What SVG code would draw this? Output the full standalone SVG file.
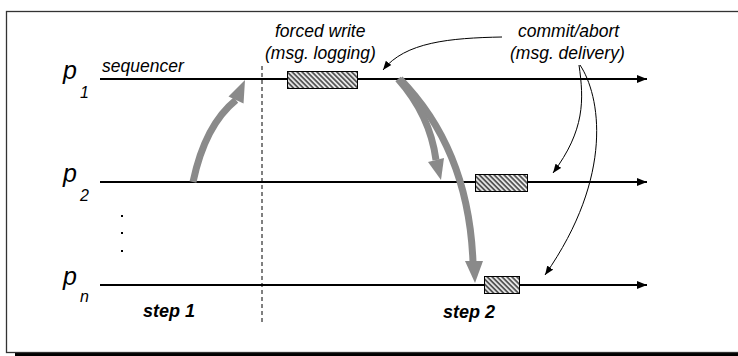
<svg xmlns="http://www.w3.org/2000/svg" width="738" height="356" viewBox="0 0 738 356">
<style>
  text { font-family: "Liberation Sans", Arial, sans-serif; fill: #000; }
  .lbl { font-size: 17.5px; font-style: italic; }
  .step { font-size: 18px; font-style: italic; font-weight: bold; }
  .p { font-size: 25px; font-style: italic; }
  .sub { font-size: 16px; font-style: italic; }
  .proc { stroke: #000; stroke-width: 2; fill: none; }
  .thin { stroke: #000; stroke-width: 1; fill: none; marker-end: url(#small); }
  .fat { stroke: #8a8a8a; stroke-width: 7; fill: none; }
  .fathead { fill: #8a8a8a; }
  .box { fill: url(#hatch); stroke: #000; stroke-width: 1; }
</style>
<defs>
  <pattern id="hatch" patternUnits="userSpaceOnUse" width="3.5" height="3.5" patternTransform="rotate(45)">
    <rect width="3.5" height="3.5" fill="#e6e6e6"/>
    <line x1="0" y1="1.75" x2="3.5" y2="1.75" stroke="#222" stroke-width="1.3"/>
  </pattern>
  <marker id="big" markerWidth="10" markerHeight="8" refX="10" refY="4" orient="auto" markerUnits="userSpaceOnUse">
    <path d="M0,0 L10,4 L0,8 Z" fill="#000"/>
  </marker>
  <marker id="small" markerWidth="9" markerHeight="8" refX="9" refY="4" orient="auto" markerUnits="userSpaceOnUse">
    <path d="M0,0.5 L9,4 L0,7.5 Z" fill="#000"/>
  </marker>
</defs>

<g id="frame">
  <rect x="15" y="352" width="723" height="4" fill="#000"/>
  <rect x="6.5" y="11.5" width="740" height="341" fill="#fff" stroke="#333" stroke-width="1.3"/>
</g>

<g id="p1">
  <line class="proc" x1="100" y1="79" x2="647" y2="79" marker-end="url(#big)"/>
  <text class="p" x="63" y="79">p</text>
  <text class="sub" x="80" y="98">1</text>
  <text class="lbl" x="102" y="72">sequencer</text>
</g>
<g id="p2">
  <line class="proc" x1="100" y1="182" x2="647" y2="182" marker-end="url(#big)"/>
  <text class="p" x="63" y="182">p</text>
  <text class="sub" x="80" y="201">2</text>
</g>
<g id="pn">
  <line class="proc" x1="100" y1="285" x2="647" y2="285" marker-end="url(#big)"/>
  <text class="p" x="63" y="285">p</text>
  <text class="sub" x="80" y="302">n</text>
</g>
<g id="dots" fill="#000">
  <rect x="121" y="215" width="2" height="2"/>
  <rect x="121" y="232" width="2" height="2"/>
  <rect x="121" y="250" width="2" height="2"/>
</g>

<g id="divider">
  <line x1="262" y1="66" x2="262" y2="324" stroke="#000" stroke-width="1" stroke-dasharray="4,3"/>
</g>

<g id="boxes">
  <rect class="box" x="287.5" y="71.5" width="70" height="17"/>
  <rect class="box" x="475.5" y="174.5" width="52" height="17"/>
  <rect class="box" x="484.5" y="276.5" width="35" height="17"/>
</g>

<g id="labels">
  <text class="lbl" x="275" y="37">forced write</text>
  <text class="lbl" x="265" y="59">(msg. logging)</text>
  <text class="lbl" x="518" y="37">commit/abort</text>
  <text class="lbl" x="510" y="59">(msg. delivery)</text>
  <text class="step" x="143" y="317">step 1</text>
  <text class="step" x="443" y="318">step 2</text>
</g>

<g id="connectors">
  <path class="fat" d="M193,182 Q205,125 236,100"/>
  <polygon class="fathead" points="245,80 228.5,96.5 243.5,103.5"/>
  <path class="fat" d="M400,79 C445,125 470,185 473,262"/>
  <polygon class="fathead" points="475,283 465,261 483,261"/>
  <path class="fat" d="M398,79 Q430,115 436,160"/>
  <polygon class="fathead" points="441,180 428,162 444,158"/>
  <path class="thin" d="M502,37 C450,38 405,42 383,70"/>
  <path class="thin" d="M579,65 C584,100 585,130 553,173"/>
  <path class="thin" d="M580,65 C600,95 615,175 545,275"/>
</g>
</svg>
